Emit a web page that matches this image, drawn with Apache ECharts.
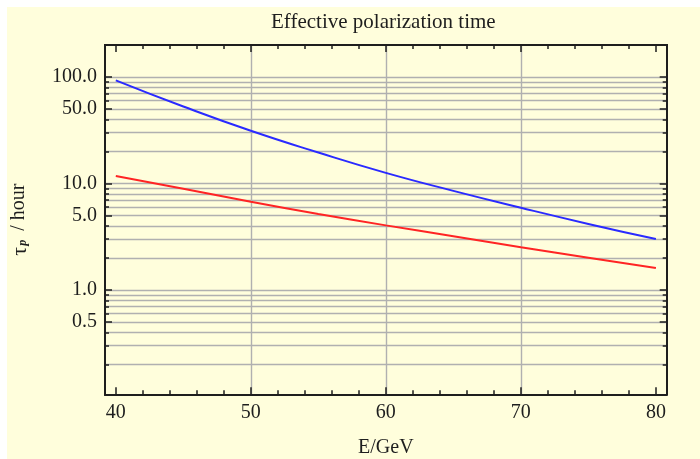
<!DOCTYPE html>
<html>
<head>
<meta charset="utf-8">
<script src="https://cdn.jsdelivr.net/npm/echarts@6/dist/echarts.min.js"></script>
<style>
  html, body { margin: 0; padding: 0; background: #ffffff; }
  #chart { position: absolute; left: 7px; top: 7px; width: 693px; height: 452px; }
</style>
</head>
<body>
<div id="chart"></div>
<script>
// Beam energy (GeV) and effective polarization time (hours) for the two curves
const energies = [40, 45, 50, 55, 60, 65, 70, 75, 80];
const tauBlue  = [93.1, 52.9, 31.3, 19.55, 12.6, 8.54, 5.93, 4.18, 3.01];
const tauRed   = [11.76, 8.92, 6.75, 5.18, 4.05, 3.2, 2.52, 2.01, 1.61];

// Axis ticks, labels and grid lines
const xMajorTicks = [40, 50, 60, 70, 80];
const xMinorTicks = [42, 44, 46, 48, 52, 54, 56, 58, 62, 64, 66, 68, 72, 74, 76, 78];
const xGridValues = [50, 60, 70];
const yLabelValues = [0.5, 1, 5, 10, 50, 100];
const yGridValues = [0.2, 0.3, 0.4, 0.5, 0.6, 0.7, 0.8, 0.9, 1,
                     2, 3, 4, 5, 6, 7, 8, 9, 10,
                     20, 30, 40, 50, 60, 70, 80, 90, 100];

const FONT = 'Liberation Serif';
const INK = '#1e1e1e';
const FRAME = { show: true, lineStyle: { color: INK, width: 2 } };
const X_RANGE = { min: 39.2, max: 80.8 };
const Y_RANGE = { min: 0.105, max: 200 };

function pairs(xs, ys) { return xs.map((x, i) => [x, ys[i]]); }

function xAxisDef(position, ticks, len, extra) {
  return Object.assign({
    type: 'value', position: position, ...X_RANGE,
    axisLine: FRAME,
    axisTick: { show: true, inside: true, length: len, customValues: ticks,
                lineStyle: { color: INK, width: 1.5 } },
    axisLabel: { show: false },
    splitLine: { show: false }
  }, extra || {});
}
function yAxisDef(position, ticks, len, extra) {
  return Object.assign({
    type: 'log', logBase: 10, position: position, ...Y_RANGE,
    axisLine: FRAME,
    axisTick: { show: true, inside: true, length: len, customValues: ticks,
                lineStyle: { color: INK, width: 1.5 } },
    axisLabel: { show: false },
    splitLine: { show: false }
  }, extra || {});
}

const chart = echarts.init(document.getElementById('chart'), null, { renderer: 'canvas' });
chart.setOption({
  backgroundColor: '#fffedc',
  animation: false,
  title: {
    text: 'Effective polarization time',
    left: 264, top: 5, padding: 0,
    textStyle: { fontFamily: FONT, fontSize: 21, fontWeight: 'normal', color: INK }
  },
  grid: { left: 98, top: 38, width: 561.7, height: 349.3,
          containLabel: false, outerBoundsMode: 'none' },
  xAxis: [
    xAxisDef('bottom', xMajorTicks, 7, {
      axisLabel: { show: true, customValues: xMajorTicks, margin: 8,
                   fontFamily: FONT, fontSize: 20, color: INK },
      name: 'E/GeV', nameLocation: 'middle', nameGap: 43,
      nameTextStyle: { fontFamily: FONT, fontSize: 20, color: INK }
    }),
    xAxisDef('bottom', xMinorTicks, 4),
    xAxisDef('top', xMajorTicks, 7),
    xAxisDef('top', xMinorTicks, 4),
    xAxisDef('bottom', xGridValues, 0, {
      axisLine: { show: false },
      axisTick: { show: false, customValues: xGridValues },
      splitLine: { show: true, lineStyle: { color: '#b0b0b0', width: 1.4 } }
    })
  ],
  yAxis: [
    yAxisDef('left', yLabelValues, 7, {
      axisLabel: { show: true, customValues: yLabelValues, margin: 8,
                   fontFamily: FONT, fontSize: 20, color: INK,
                   formatter: v => Number(v).toFixed(1) },
      name: '{tau|τ}{p|p}{t|/ hour}', nameLocation: 'middle', nameGap: 76, nameRotate: 90,
      nameTextStyle: {
        fontFamily: FONT, fontSize: 20, color: INK,
        rich: {
          tau: { fontFamily: FONT, fontSize: 22, color: INK, verticalAlign: 'top', lineHeight: 20 },
          t: { fontFamily: FONT, fontSize: 20, color: INK, verticalAlign: 'top', lineHeight: 20 },
          p: { fontFamily: FONT, fontSize: 12, fontStyle: 'italic', fontWeight: 'bold', color: INK,
               verticalAlign: 'bottom', lineHeight: 12, padding: [13, 9, 0, 1] }
        }
      }
    }),
    yAxisDef('left', yGridValues, 4, {
      splitLine: { show: true, lineStyle: { color: '#b0b0b0', width: 1.4 } }
    }),
    yAxisDef('right', yLabelValues, 7),
    yAxisDef('right', yGridValues, 4)
  ],
  series: [
    {
      name: 'blue', type: 'line', xAxisIndex: 0, yAxisIndex: 0,
      data: pairs(energies, tauBlue), smooth: true, showSymbol: false,
      lineStyle: { color: '#2a2aff', width: 2 }, z: 5
    },
    {
      name: 'red', type: 'line', xAxisIndex: 0, yAxisIndex: 0,
      data: pairs(energies, tauRed), smooth: true, showSymbol: false,
      lineStyle: { color: '#ff2424', width: 2 }, z: 5
    }
  ]
});
</script>
</body>
</html>
